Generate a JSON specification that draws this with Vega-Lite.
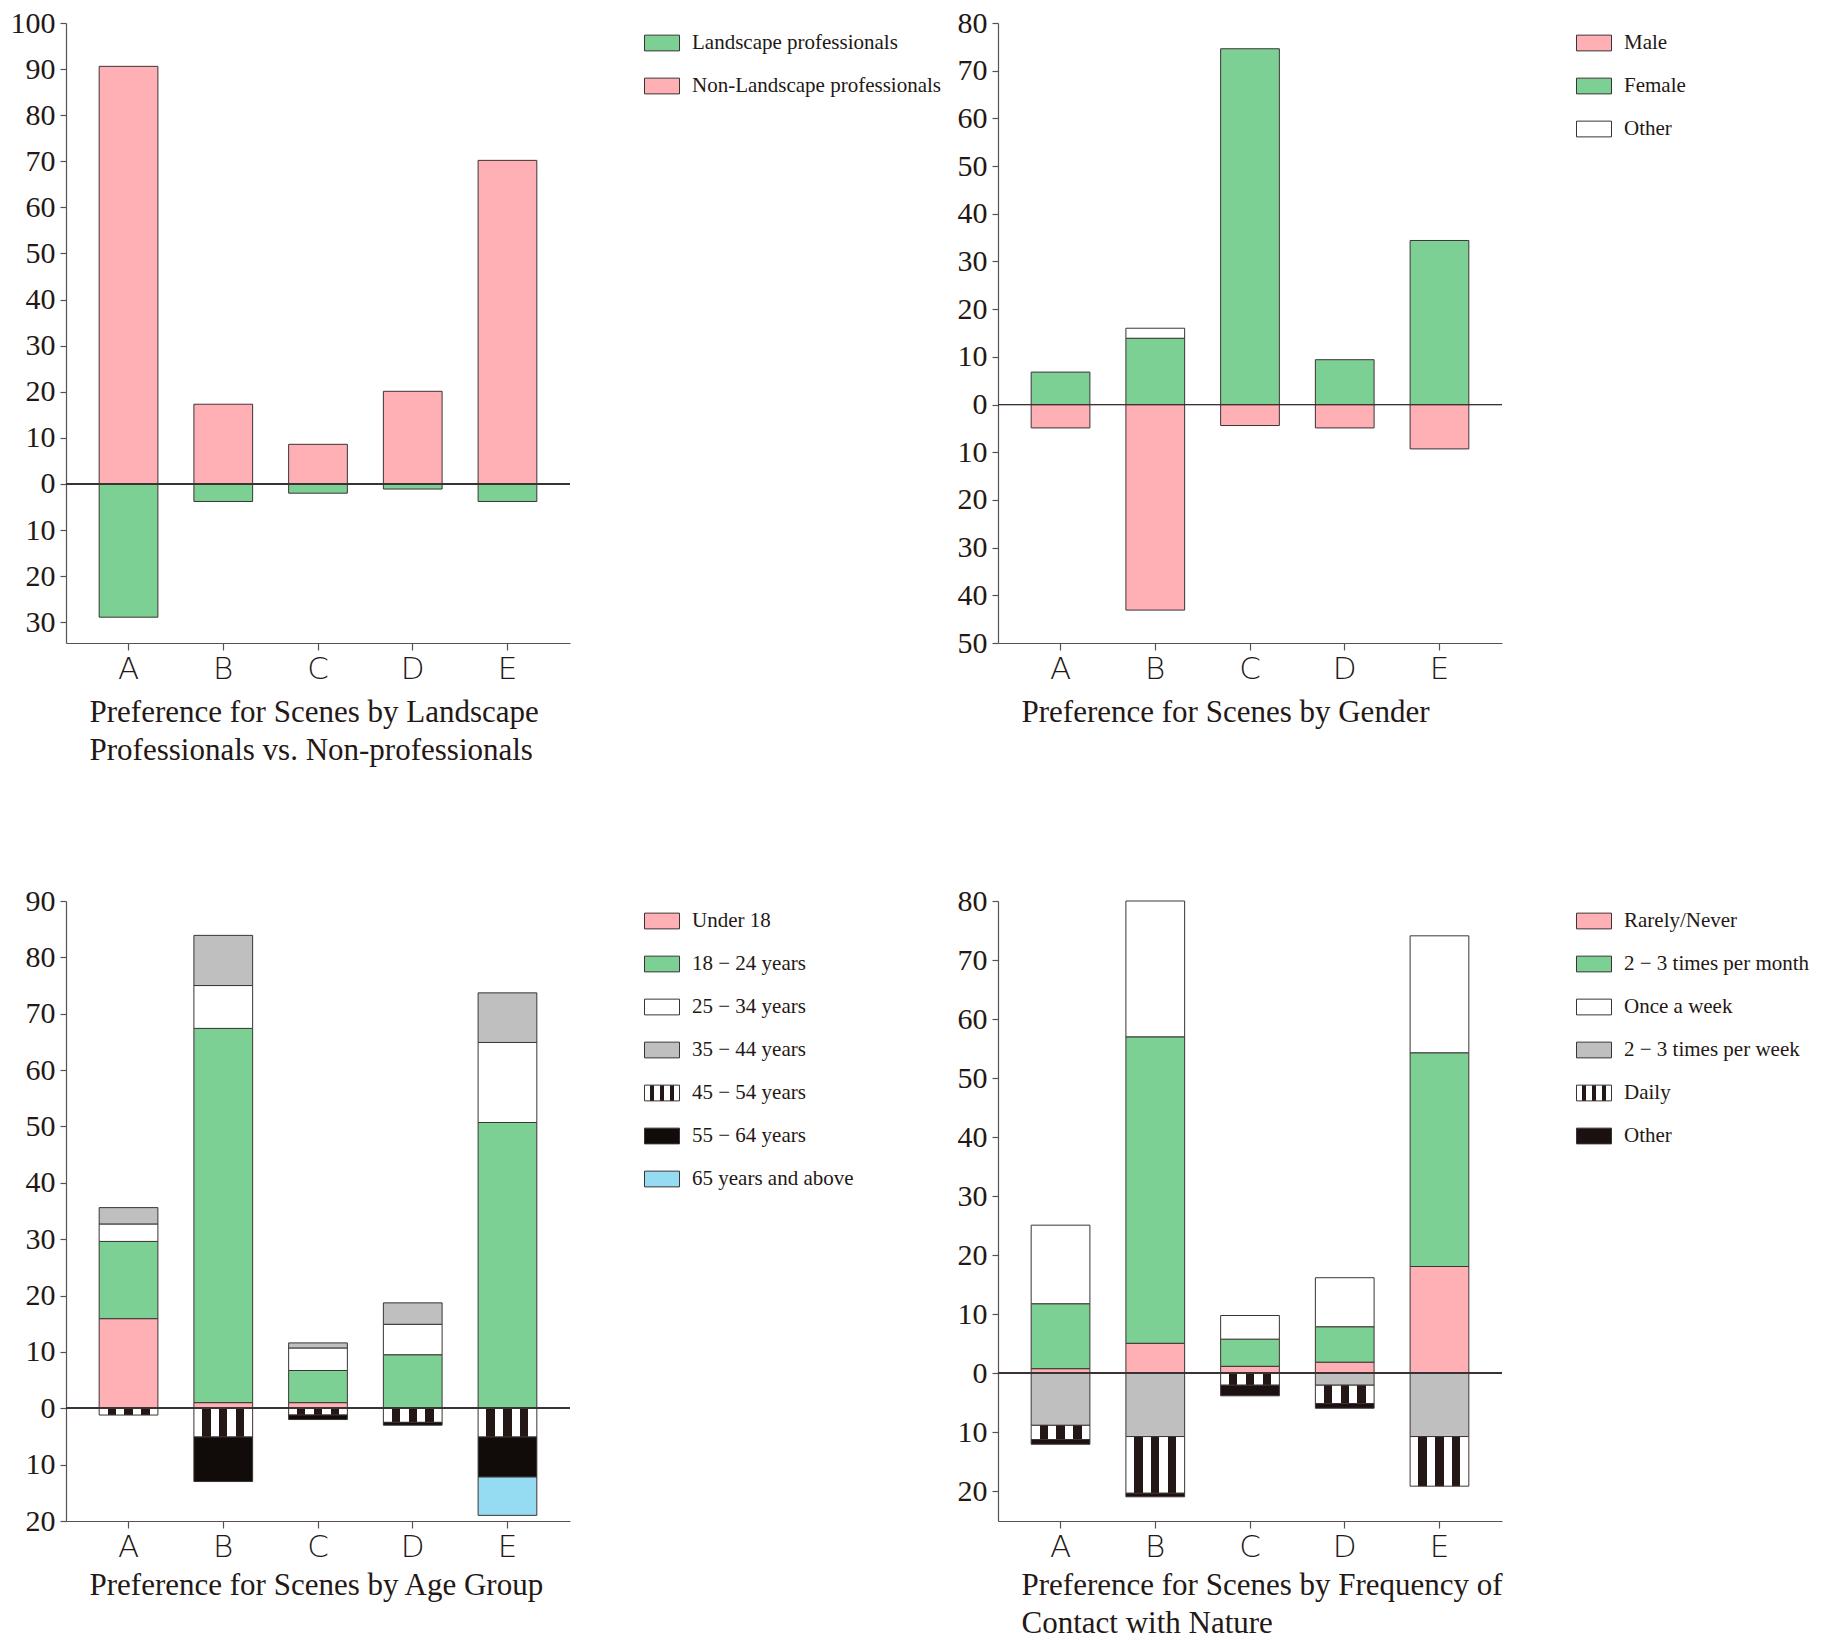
{
  "$schema": "https://vega.github.io/schema/vega-lite/v6.json",
  "background": "white",
  "padding": {"left": 10, "top": 8, "right": 0, "bottom": 0},
  "bounds": "flush",
  "columns": 2,
  "spacing": {"row": 258, "column": 428},
  "datasets": {
    "prof": [
      {"scene": "A", "group": "Non-Landscape professionals", "value": 90.6, "order": 1},
      {"scene": "A", "group": "Landscape professionals", "value": -28.9, "order": 1},
      {"scene": "B", "group": "Non-Landscape professionals", "value": 17.3, "order": 1},
      {"scene": "B", "group": "Landscape professionals", "value": -3.8, "order": 1},
      {"scene": "C", "group": "Non-Landscape professionals", "value": 8.6, "order": 1},
      {"scene": "C", "group": "Landscape professionals", "value": -2.0, "order": 1},
      {"scene": "D", "group": "Non-Landscape professionals", "value": 20.1, "order": 1},
      {"scene": "D", "group": "Landscape professionals", "value": -1.1, "order": 1},
      {"scene": "E", "group": "Non-Landscape professionals", "value": 70.2, "order": 1},
      {"scene": "E", "group": "Landscape professionals", "value": -3.8, "order": 1}
    ],
    "gender": [
      {"scene": "A", "group": "Female", "value": 6.8, "order": 1},
      {"scene": "A", "group": "Male", "value": -4.9, "order": 1},
      {"scene": "B", "group": "Female", "value": 13.9, "order": 1},
      {"scene": "B", "group": "Other", "value": 2.1, "order": 2},
      {"scene": "B", "group": "Male", "value": -43.1, "order": 1},
      {"scene": "C", "group": "Female", "value": 74.6, "order": 1},
      {"scene": "C", "group": "Male", "value": -4.4, "order": 1},
      {"scene": "D", "group": "Female", "value": 9.4, "order": 1},
      {"scene": "D", "group": "Male", "value": -4.9, "order": 1},
      {"scene": "E", "group": "Female", "value": 34.4, "order": 1},
      {"scene": "E", "group": "Male", "value": -9.3, "order": 1}
    ],
    "age": [
      {"scene": "A", "group": "Under 18", "value": 15.9, "order": 1},
      {"scene": "A", "group": "18 − 24 years", "value": 13.7, "order": 2},
      {"scene": "A", "group": "25 − 34 years", "value": 3.1, "order": 3},
      {"scene": "A", "group": "35 − 44 years", "value": 2.9, "order": 4},
      {"scene": "A", "group": "45 − 54 years", "value": -1.2, "order": 5},
      {"scene": "B", "group": "Under 18", "value": 1.0, "order": 1},
      {"scene": "B", "group": "18 − 24 years", "value": 66.4, "order": 2},
      {"scene": "B", "group": "25 − 34 years", "value": 7.6, "order": 3},
      {"scene": "B", "group": "35 − 44 years", "value": 8.9, "order": 4},
      {"scene": "B", "group": "45 − 54 years", "value": -5.1, "order": 5},
      {"scene": "B", "group": "55 − 64 years", "value": -7.9, "order": 6},
      {"scene": "C", "group": "Under 18", "value": 1.0, "order": 1},
      {"scene": "C", "group": "18 − 24 years", "value": 5.7, "order": 2},
      {"scene": "C", "group": "25 − 34 years", "value": 4.0, "order": 3},
      {"scene": "C", "group": "35 − 44 years", "value": 0.9, "order": 4},
      {"scene": "C", "group": "45 − 54 years", "value": -1.2, "order": 5},
      {"scene": "C", "group": "55 − 64 years", "value": -0.8, "order": 6},
      {"scene": "D", "group": "18 − 24 years", "value": 9.5, "order": 2},
      {"scene": "D", "group": "25 − 34 years", "value": 5.4, "order": 3},
      {"scene": "D", "group": "35 − 44 years", "value": 3.8, "order": 4},
      {"scene": "D", "group": "45 − 54 years", "value": -2.5, "order": 5},
      {"scene": "D", "group": "55 − 64 years", "value": -0.5, "order": 6},
      {"scene": "E", "group": "18 − 24 years", "value": 50.7, "order": 2},
      {"scene": "E", "group": "25 − 34 years", "value": 14.2, "order": 3},
      {"scene": "E", "group": "35 − 44 years", "value": 8.8, "order": 4},
      {"scene": "E", "group": "45 − 54 years", "value": -5.1, "order": 5},
      {"scene": "E", "group": "55 − 64 years", "value": -7.1, "order": 6},
      {"scene": "E", "group": "65 years and above", "value": -6.8, "order": 7}
    ],
    "freq": [
      {"scene": "A", "group": "Rarely/Never", "value": 0.8, "order": 1},
      {"scene": "A", "group": "2 − 3 times per month", "value": 11.0, "order": 2},
      {"scene": "A", "group": "Once a week", "value": 13.3, "order": 3},
      {"scene": "A", "group": "2 − 3 times per week", "value": -8.8, "order": 4},
      {"scene": "A", "group": "Daily", "value": -2.4, "order": 5},
      {"scene": "A", "group": "Other", "value": -0.8, "order": 6},
      {"scene": "B", "group": "Rarely/Never", "value": 5.1, "order": 1},
      {"scene": "B", "group": "2 − 3 times per month", "value": 51.9, "order": 2},
      {"scene": "B", "group": "Once a week", "value": 23.0, "order": 3},
      {"scene": "B", "group": "2 − 3 times per week", "value": -10.7, "order": 4},
      {"scene": "B", "group": "Daily", "value": -9.6, "order": 5},
      {"scene": "B", "group": "Other", "value": -0.6, "order": 6},
      {"scene": "C", "group": "Rarely/Never", "value": 1.2, "order": 1},
      {"scene": "C", "group": "2 − 3 times per month", "value": 4.6, "order": 2},
      {"scene": "C", "group": "Once a week", "value": 4.0, "order": 3},
      {"scene": "C", "group": "Daily", "value": -2.0, "order": 5},
      {"scene": "C", "group": "Other", "value": -1.8, "order": 6},
      {"scene": "D", "group": "Rarely/Never", "value": 1.9, "order": 1},
      {"scene": "D", "group": "2 − 3 times per month", "value": 6.0, "order": 2},
      {"scene": "D", "group": "Once a week", "value": 8.3, "order": 3},
      {"scene": "D", "group": "2 − 3 times per week", "value": -2.0, "order": 4},
      {"scene": "D", "group": "Daily", "value": -3.1, "order": 5},
      {"scene": "D", "group": "Other", "value": -0.8, "order": 6},
      {"scene": "E", "group": "Rarely/Never", "value": 18.1, "order": 1},
      {"scene": "E", "group": "2 − 3 times per month", "value": 36.2, "order": 2},
      {"scene": "E", "group": "Once a week", "value": 19.8, "order": 3},
      {"scene": "E", "group": "2 − 3 times per week", "value": -10.7, "order": 4},
      {"scene": "E", "group": "Daily", "value": -8.4, "order": 5}
    ]
  },
  "concat": [
    {
      "width": 504,
      "height": 620,
      "data": {"name": "prof"},
      "layer": [
        {
          "mark": {"type": "bar", "stroke": "#3c3434", "strokeWidth": 1},
          "encoding": {
            "x": {
              "field": "scene", "type": "nominal",
              "scale": {"paddingInner": 0.38, "paddingOuter": 0.35},
              "axis": {"title": ["Preference for Scenes by Landscape", "Professionals vs. Non-professionals"], "titleY": 78}
            },
            "y": {
              "field": "value", "type": "quantitative", "stack": "zero",
              "scale": {"domain": [-34.5, 100], "nice": false, "zero": false},
              "axis": {"values": [-30, -20, -10, 0, 10, 20, 30, 40, 50, 60, 70, 80, 90, 100]}
            },
            "color": {
              "field": "group", "type": "nominal",
              "scale": {"domain": ["Landscape professionals", "Non-Landscape professionals"], "range": ["#7DD093", "#FFB0B5"]}
            },
            "order": {"field": "order"}
          }
        },
        {"mark": {"type": "rule", "color": "#3c3434", "strokeWidth": 1}, "encoding": {"y": {"datum": 0}}}
      ]
    },
    {
      "width": 504,
      "height": 620,
      "data": {"name": "gender"},
      "layer": [
        {
          "mark": {"type": "bar", "stroke": "#3c3434", "strokeWidth": 1},
          "encoding": {
            "x": {
              "field": "scene", "type": "nominal",
              "scale": {"paddingInner": 0.38, "paddingOuter": 0.35},
              "axis": {"title": "Preference for Scenes by Gender", "titleY": 78}
            },
            "y": {
              "field": "value", "type": "quantitative", "stack": "zero",
              "scale": {"domain": [-50, 80], "nice": false, "zero": false},
              "axis": {"values": [-50, -40, -30, -20, -10, 0, 10, 20, 30, 40, 50, 60, 70, 80]}
            },
            "color": {
              "field": "group", "type": "nominal",
              "scale": {"domain": ["Male", "Female", "Other"], "range": ["#FFB0B5", "#7DD093", "#FFFFFF"]}
            },
            "order": {"field": "order"}
          }
        },
        {"mark": {"type": "rule", "color": "#3c3434", "strokeWidth": 1}, "encoding": {"y": {"datum": 0}}}
      ]
    },
    {
      "width": 504,
      "height": 620,
      "data": {"name": "age"},
      "layer": [
        {
          "mark": {"type": "bar", "stroke": "#3c3434", "strokeWidth": 1},
          "encoding": {
            "x": {
              "field": "scene", "type": "nominal",
              "scale": {"paddingInner": 0.38, "paddingOuter": 0.35},
              "axis": {"title": "Preference for Scenes by Age Group", "titleY": 73}
            },
            "y": {
              "field": "value", "type": "quantitative", "stack": "zero",
              "scale": {"domain": [-20, 90], "nice": false, "zero": false},
              "axis": {"values": [-20, -10, 0, 10, 20, 30, 40, 50, 60, 70, 80, 90]}
            },
            "color": {
              "field": "group", "type": "nominal",
              "scale": {
                "domain": ["Under 18", "18 − 24 years", "25 − 34 years", "35 − 44 years", "45 − 54 years", "55 − 64 years", "65 years and above"],
                "range": [
                  "#FFB0B5", "#7DD093", "#FFFFFF", "#BFBFBF",
                  {"expr": "{gradient: 'linear', x1: 0, y1: 0, x2: 1, y2: 0, stops: [{offset: 0, color: '#ffffff'}, {offset: 0.1429, color: '#ffffff'}, {offset: 0.1429, color: '#231815'}, {offset: 0.2857, color: '#231815'}, {offset: 0.2857, color: '#ffffff'}, {offset: 0.4286, color: '#ffffff'}, {offset: 0.4286, color: '#231815'}, {offset: 0.5714, color: '#231815'}, {offset: 0.5714, color: '#ffffff'}, {offset: 0.7143, color: '#ffffff'}, {offset: 0.7143, color: '#231815'}, {offset: 0.8571, color: '#231815'}, {offset: 0.8571, color: '#ffffff'}, {offset: 1, color: '#ffffff'}]}"},
                  "#110b0a", "#95DBF1"
                ]
              }
            },
            "order": {"field": "order"}
          }
        },
        {"mark": {"type": "rule", "color": "#3c3434", "strokeWidth": 1}, "encoding": {"y": {"datum": 0}}}
      ]
    },
    {
      "width": 504,
      "height": 620,
      "data": {"name": "freq"},
      "layer": [
        {
          "mark": {"type": "bar", "stroke": "#3c3434", "strokeWidth": 1},
          "encoding": {
            "x": {
              "field": "scene", "type": "nominal",
              "scale": {"paddingInner": 0.38, "paddingOuter": 0.35},
              "axis": {"title": ["Preference for Scenes by Frequency of", "Contact with Nature"], "titleY": 73}
            },
            "y": {
              "field": "value", "type": "quantitative", "stack": "zero",
              "scale": {"domain": [-25, 80], "nice": false, "zero": false},
              "axis": {"values": [-20, -10, 0, 10, 20, 30, 40, 50, 60, 70, 80]}
            },
            "color": {
              "field": "group", "type": "nominal",
              "scale": {
                "domain": ["Rarely/Never", "2 − 3 times per month", "Once a week", "2 − 3 times per week", "Daily", "Other"],
                "range": [
                  "#FFB0B5", "#7DD093", "#FFFFFF", "#BFBFBF",
                  {"expr": "{gradient: 'linear', x1: 0, y1: 0, x2: 1, y2: 0, stops: [{offset: 0, color: '#ffffff'}, {offset: 0.1429, color: '#ffffff'}, {offset: 0.1429, color: '#231815'}, {offset: 0.2857, color: '#231815'}, {offset: 0.2857, color: '#ffffff'}, {offset: 0.4286, color: '#ffffff'}, {offset: 0.4286, color: '#231815'}, {offset: 0.5714, color: '#231815'}, {offset: 0.5714, color: '#ffffff'}, {offset: 0.7143, color: '#ffffff'}, {offset: 0.7143, color: '#231815'}, {offset: 0.8571, color: '#231815'}, {offset: 0.8571, color: '#ffffff'}, {offset: 1, color: '#ffffff'}]}"},
                  "#1a1110"
                ]
              }
            },
            "order": {"field": "order"}
          }
        },
        {"mark": {"type": "rule", "color": "#3c3434", "strokeWidth": 1}, "encoding": {"y": {"datum": 0}}}
      ]
    }
  ],
  "resolve": {"scale": {"color": "independent"}, "legend": {"color": "independent"}},
  "config": {
    "view": {"stroke": null},
    "font": "Liberation Serif",
    "axis": {
      "grid": false,
      "domainColor": "#5a5050",
      "domainWidth": 1.2,
      "tickColor": "#5a5050",
      "tickWidth": 1.2,
      "labelColor": "#231815",
      "titleColor": "#231815",
      "labelFont": "Liberation Serif",
      "titleFont": "Liberation Serif"
    },
    "axisY": {
      "title": null,
      "labelFontSize": 30,
      "tickSize": 6,
      "labelPadding": 5,
      "labelExpr": "abs(datum.value)"
    },
    "axisX": {
      "labelAngle": 0,
      "labelFont": "DejaVu Sans",
      "labelFontWeight": 200,
      "labelFontSize": 31,
      "tickSize": 7,
      "labelPadding": 4,
      "titleFontSize": 31,
      "titleFontWeight": "normal",
      "titleAlign": "left",
      "titleAnchor": "start",
      "titleBaseline": "alphabetic",
      "titleX": 23,
      "titleLineHeight": 38
    },
    "legend": {
      "orient": "none",
      "legendX": 578,
      "legendY": 2,
      "title": null,
      "symbolType": "M-1,-0.45H1V0.45H-1Z",
      "symbolSize": 1225,
      "symbolStrokeColor": "#3c3434",
      "symbolStrokeWidth": 1,
      "labelFont": "Liberation Serif",
      "labelFontSize": 21,
      "labelColor": "#231815",
      "labelOffset": 12,
      "labelLimit": 0,
      "rowPadding": 15
    }
  }
}
